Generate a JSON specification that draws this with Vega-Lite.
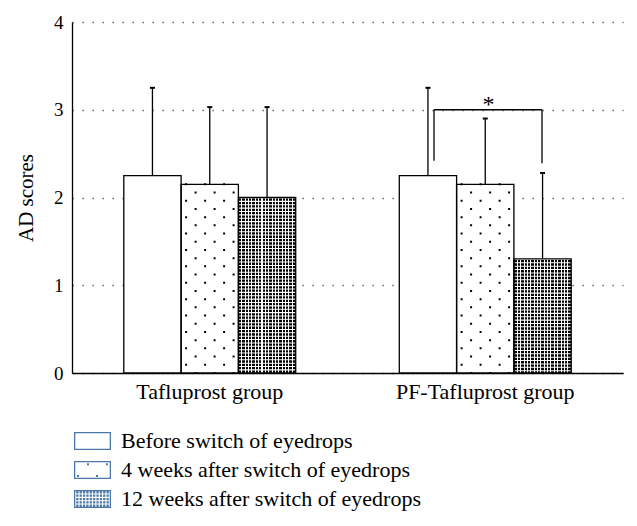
{
  "$schema": "https://vega.github.io/schema/vega-lite/v6.json",
  "width": 551,
  "height": 351,
  "autosize": {"type": "none"},
  "padding": {"left": 72, "top": 22, "right": 14, "bottom": 153},
  "background": "white",
  "config": {"view": {"stroke": null}, "font": "Liberation Serif"},
  "datasets": {
    "bars": [
      {"group": "Tafluprost group", "series": "Before switch of eyedrops", "value": 2.25, "upper": 3.25},
      {"group": "Tafluprost group", "series": "4 weeks after switch of eyedrops", "value": 2.15, "upper": 3.03},
      {"group": "Tafluprost group", "series": "12 weeks after switch of eyedrops", "value": 2.0, "upper": 3.03},
      {"group": "PF-Tafluprost group", "series": "Before switch of eyedrops", "value": 2.25, "upper": 3.25},
      {"group": "PF-Tafluprost group", "series": "4 weeks after switch of eyedrops", "value": 2.15, "upper": 2.9},
      {"group": "PF-Tafluprost group", "series": "12 weeks after switch of eyedrops", "value": 1.3, "upper": 2.28}
    ],
    "bracket": [
      {"x1": 1.314, "x2": 1.706, "y1": 3.0, "y2": 3.0},
      {"x1": 1.314, "x2": 1.314, "y1": 3.0, "y2": 2.42},
      {"x1": 1.706, "x2": 1.706, "y1": 3.0, "y2": 2.39}
    ],
    "star": [{"x1": 1.512, "y1": 2.97, "label": "*"}]
  },
  "layer": [
    {
      "data": {"name": "bars"},
      "encoding": {
        "x": {
          "field": "group", "type": "nominal",
          "sort": ["Tafluprost group", "PF-Tafluprost group"],
          "scale": {"paddingInner": 0.376, "paddingOuter": 0.188},
          "axis": {"title": null, "ticks": false, "labelAngle": 0, "labelFont": "Liberation Serif", "labelFontSize": 22, "labelColor": "black", "labelPadding": 8, "domainColor": "black", "domainWidth": 1.3, "grid": false}
        },
        "xOffset": {
          "field": "series", "type": "nominal",
          "scale": {"domain": ["Before switch of eyedrops", "4 weeks after switch of eyedrops", "12 weeks after switch of eyedrops"], "paddingInner": 0, "paddingOuter": 0}
        },
        "y": {
          "field": "value", "type": "quantitative", "title": "AD scores",
          "scale": {"domain": [0, 4], "nice": false},
          "axis": {"values": [0, 1, 2, 3, 4], "format": "d", "ticks": false, "labelFont": "Liberation Serif", "labelFontSize": 19, "labelColor": "black", "labelPadding": 9, "domainColor": "black", "domainWidth": 1.3, "grid": true, "gridDash": [1.3, 8.7], "gridColor": "#555555", "gridWidth": 1.3, "titleFont": "Liberation Serif", "titleFontSize": 21, "titleFontWeight": "normal", "titleColor": "black", "titlePadding": 17}
        }
      },
      "layer": [
        {
          "mark": {"type": "point", "opacity": 0, "size": 324, "filled": true},
          "encoding": {
            "shape": {
              "field": "series", "type": "nominal",
              "scale": {
                "domain": ["Before switch of eyedrops", "4 weeks after switch of eyedrops", "12 weeks after switch of eyedrops"],
                "range": [
                  "M-2.056,-1H2.056V1H-2.056ZM-1.912,-0.856V0.856H1.912V-0.856Z",
                  "M-2.056,-1H2.056V1H-2.056ZM-1.912,-0.856V0.856H1.912V-0.856ZM-0.61,-0.74h0.22v0.22h-0.22zM1.5,-0.74h0.22v0.22h-0.22zM-1.72,0.56h0.22v0.22h-0.22zM0.39,0.56h0.22v0.22h-0.22z",
                  "M-2.056,-1H2.056V1H-2.056ZM-1.912,-0.856V0.856H1.912V-0.856ZM-1.808,-0.873h0.25v0.25h-0.25zM-1.434,-0.873h0.25v0.25h-0.25zM-1.06,-0.873h0.25v0.25h-0.25zM-0.686,-0.873h0.25v0.25h-0.25zM-0.312,-0.873h0.25v0.25h-0.25zM0.062,-0.873h0.25v0.25h-0.25zM0.436,-0.873h0.25v0.25h-0.25zM0.81,-0.873h0.25v0.25h-0.25zM1.184,-0.873h0.25v0.25h-0.25zM1.558,-0.873h0.25v0.25h-0.25zM-1.808,-0.499h0.25v0.25h-0.25zM-1.434,-0.499h0.25v0.25h-0.25zM-1.06,-0.499h0.25v0.25h-0.25zM-0.686,-0.499h0.25v0.25h-0.25zM-0.312,-0.499h0.25v0.25h-0.25zM0.062,-0.499h0.25v0.25h-0.25zM0.436,-0.499h0.25v0.25h-0.25zM0.81,-0.499h0.25v0.25h-0.25zM1.184,-0.499h0.25v0.25h-0.25zM1.558,-0.499h0.25v0.25h-0.25zM-1.808,-0.125h0.25v0.25h-0.25zM-1.434,-0.125h0.25v0.25h-0.25zM-1.06,-0.125h0.25v0.25h-0.25zM-0.686,-0.125h0.25v0.25h-0.25zM-0.312,-0.125h0.25v0.25h-0.25zM0.062,-0.125h0.25v0.25h-0.25zM0.436,-0.125h0.25v0.25h-0.25zM0.81,-0.125h0.25v0.25h-0.25zM1.184,-0.125h0.25v0.25h-0.25zM1.558,-0.125h0.25v0.25h-0.25zM-1.808,0.249h0.25v0.25h-0.25zM-1.434,0.249h0.25v0.25h-0.25zM-1.06,0.249h0.25v0.25h-0.25zM-0.686,0.249h0.25v0.25h-0.25zM-0.312,0.249h0.25v0.25h-0.25zM0.062,0.249h0.25v0.25h-0.25zM0.436,0.249h0.25v0.25h-0.25zM0.81,0.249h0.25v0.25h-0.25zM1.184,0.249h0.25v0.25h-0.25zM1.558,0.249h0.25v0.25h-0.25zM-1.808,0.623h0.25v0.25h-0.25zM-1.434,0.623h0.25v0.25h-0.25zM-1.06,0.623h0.25v0.25h-0.25zM-0.686,0.623h0.25v0.25h-0.25zM-0.312,0.623h0.25v0.25h-0.25zM0.062,0.623h0.25v0.25h-0.25zM0.436,0.623h0.25v0.25h-0.25zM0.81,0.623h0.25v0.25h-0.25zM1.184,0.623h0.25v0.25h-0.25zM1.558,0.623h0.25v0.25h-0.25z"
                ]
              },
              "legend": {
                "orient": "none", "legendX": 9.5, "legendY": 408, "title": null, "direction": "vertical",
                "symbolSize": 324, "symbolStrokeWidth": 0, "symbolFillColor": "black", "symbolOpacity": 1,
                "labelFont": "Liberation Serif", "labelFontSize": 22, "labelColor": "black", "labelOffset": 17.5, "labelLimit": 500,
                "rowPadding": 7, "padding": 0,
                "encode": {"symbols": {"update": {"fill": {"value": "black"}, "opacity": {"value": 1}, "fillOpacity": {"value": 1}, "stroke": {"value": "transparent"}, "strokeWidth": {"value": 0}}}}
              }
            }
          }
        },
        {
          "mark": {"type": "bar", "fill": "white"}
        },
        {
          "transform": [{"filter": "datum.series === '12 weeks after switch of eyedrops'"}],
          "mark": {"type": "bar", "fill": "black"}
        },
        {
          "transform": [{"filter": "datum.series === '12 weeks after switch of eyedrops'"}],
          "mark": {
            "type": "bar",
            "fill": {
              "gradient": "linear", "x1": 0, "y1": 0, "x2": 1, "y2": 0,
              "stops": [
                {"offset": 0, "color": "white"},
                {"offset": 0.0089, "color": "white"}, {"offset": 0.0089, "color": "rgba(255,255,255,0)"}, {"offset": 0.0499, "color": "rgba(255,255,255,0)"}, {"offset": 0.0499, "color": "white"},
                {"offset": 0.0677, "color": "white"}, {"offset": 0.0677, "color": "rgba(255,255,255,0)"}, {"offset": 0.1087, "color": "rgba(255,255,255,0)"}, {"offset": 0.1087, "color": "white"},
                {"offset": 0.1266, "color": "white"}, {"offset": 0.1266, "color": "rgba(255,255,255,0)"}, {"offset": 0.1676, "color": "rgba(255,255,255,0)"}, {"offset": 0.1676, "color": "white"},
                {"offset": 0.1854, "color": "white"}, {"offset": 0.1854, "color": "rgba(255,255,255,0)"}, {"offset": 0.2264, "color": "rgba(255,255,255,0)"}, {"offset": 0.2264, "color": "white"},
                {"offset": 0.2442, "color": "white"}, {"offset": 0.2442, "color": "rgba(255,255,255,0)"}, {"offset": 0.2852, "color": "rgba(255,255,255,0)"}, {"offset": 0.2852, "color": "white"},
                {"offset": 0.3030, "color": "white"}, {"offset": 0.3030, "color": "rgba(255,255,255,0)"}, {"offset": 0.3440, "color": "rgba(255,255,255,0)"}, {"offset": 0.3440, "color": "white"},
                {"offset": 0.3619, "color": "white"}, {"offset": 0.3619, "color": "rgba(255,255,255,0)"}, {"offset": 0.4029, "color": "rgba(255,255,255,0)"}, {"offset": 0.4029, "color": "white"},
                {"offset": 0.4207, "color": "white"}, {"offset": 0.4207, "color": "rgba(255,255,255,0)"}, {"offset": 0.4617, "color": "rgba(255,255,255,0)"}, {"offset": 0.4617, "color": "white"},
                {"offset": 0.4795, "color": "white"}, {"offset": 0.4795, "color": "rgba(255,255,255,0)"}, {"offset": 0.5205, "color": "rgba(255,255,255,0)"}, {"offset": 0.5205, "color": "white"},
                {"offset": 0.5383, "color": "white"}, {"offset": 0.5383, "color": "rgba(255,255,255,0)"}, {"offset": 0.5793, "color": "rgba(255,255,255,0)"}, {"offset": 0.5793, "color": "white"},
                {"offset": 0.5972, "color": "white"}, {"offset": 0.5972, "color": "rgba(255,255,255,0)"}, {"offset": 0.6382, "color": "rgba(255,255,255,0)"}, {"offset": 0.6382, "color": "white"},
                {"offset": 0.6560, "color": "white"}, {"offset": 0.6560, "color": "rgba(255,255,255,0)"}, {"offset": 0.6970, "color": "rgba(255,255,255,0)"}, {"offset": 0.6970, "color": "white"},
                {"offset": 0.7148, "color": "white"}, {"offset": 0.7148, "color": "rgba(255,255,255,0)"}, {"offset": 0.7558, "color": "rgba(255,255,255,0)"}, {"offset": 0.7558, "color": "white"},
                {"offset": 0.7736, "color": "white"}, {"offset": 0.7736, "color": "rgba(255,255,255,0)"}, {"offset": 0.8146, "color": "rgba(255,255,255,0)"}, {"offset": 0.8146, "color": "white"},
                {"offset": 0.8324, "color": "white"}, {"offset": 0.8324, "color": "rgba(255,255,255,0)"}, {"offset": 0.8734, "color": "rgba(255,255,255,0)"}, {"offset": 0.8734, "color": "white"},
                {"offset": 0.8913, "color": "white"}, {"offset": 0.8913, "color": "rgba(255,255,255,0)"}, {"offset": 0.9323, "color": "rgba(255,255,255,0)"}, {"offset": 0.9323, "color": "white"},
                {"offset": 0.9501, "color": "white"}, {"offset": 0.9501, "color": "rgba(255,255,255,0)"}, {"offset": 0.9911, "color": "rgba(255,255,255,0)"}, {"offset": 0.9911, "color": "white"},
                {"offset": 1, "color": "white"}
              ]
            }
          }
        },
        {
          "transform": [{"filter": "datum.series === '12 weeks after switch of eyedrops'"}],
          "mark": {"type": "rule", "stroke": "white", "strokeWidth": 57.3, "strokeDash": [1.05, 2.32], "strokeCap": "butt"},
          "encoding": {"y2": {"datum": 0}}
        },
        {
          "transform": [{"filter": "datum.series === '4 weeks after switch of eyedrops'"}],
          "mark": {
            "type": "point", "filled": true, "color": "black", "opacity": 1, "size": 4, "strokeWidth": 0,
            "shape": "M-24.65,-1h2v2h-2zM-5.65,-1h2v2h-2zM13.35,-1h2v2h-2zM-15.15,7.2h2v2h-2zM3.85,7.2h2v2h-2zM22.85,7.2h2v2h-2zM-24.65,15.4h2v2h-2zM-5.65,15.4h2v2h-2zM13.35,15.4h2v2h-2zM-15.15,23.6h2v2h-2zM3.85,23.6h2v2h-2zM22.85,23.6h2v2h-2zM-24.65,31.8h2v2h-2zM-5.65,31.8h2v2h-2zM13.35,31.8h2v2h-2zM-15.15,40h2v2h-2zM3.85,40h2v2h-2zM22.85,40h2v2h-2zM-24.65,48.2h2v2h-2zM-5.65,48.2h2v2h-2zM13.35,48.2h2v2h-2zM-15.15,56.4h2v2h-2zM3.85,56.4h2v2h-2zM22.85,56.4h2v2h-2zM-24.65,64.6h2v2h-2zM-5.65,64.6h2v2h-2zM13.35,64.6h2v2h-2zM-15.15,72.8h2v2h-2zM3.85,72.8h2v2h-2zM22.85,72.8h2v2h-2zM-24.65,81h2v2h-2zM-5.65,81h2v2h-2zM13.35,81h2v2h-2zM-15.15,89.2h2v2h-2zM3.85,89.2h2v2h-2zM22.85,89.2h2v2h-2zM-24.65,97.4h2v2h-2zM-5.65,97.4h2v2h-2zM13.35,97.4h2v2h-2zM-15.15,105.6h2v2h-2zM3.85,105.6h2v2h-2zM22.85,105.6h2v2h-2zM-24.65,113.8h2v2h-2zM-5.65,113.8h2v2h-2zM13.35,113.8h2v2h-2zM-15.15,122h2v2h-2zM3.85,122h2v2h-2zM22.85,122h2v2h-2zM-24.65,130.2h2v2h-2zM-5.65,130.2h2v2h-2zM13.35,130.2h2v2h-2zM-15.15,138.4h2v2h-2zM3.85,138.4h2v2h-2zM22.85,138.4h2v2h-2zM-24.65,146.6h2v2h-2zM-5.65,146.6h2v2h-2zM13.35,146.6h2v2h-2zM-15.15,154.8h2v2h-2zM3.85,154.8h2v2h-2zM22.85,154.8h2v2h-2zM-24.65,163h2v2h-2zM-5.65,163h2v2h-2zM13.35,163h2v2h-2zM-15.15,171.2h2v2h-2zM3.85,171.2h2v2h-2zM22.85,171.2h2v2h-2zM-24.65,179.4h2v2h-2zM-5.65,179.4h2v2h-2zM13.35,179.4h2v2h-2zM-15.15,187.6h2v2h-2zM3.85,187.6h2v2h-2zM22.85,187.6h2v2h-2z"
          }
        },
        {
          "mark": {"type": "bar", "fill": "white", "fillOpacity": 0, "stroke": "black", "strokeWidth": 1.3}
        },
        {
          "mark": {"type": "rule", "stroke": "black", "strokeWidth": 1.3},
          "encoding": {"y2": {"field": "upper"}}
        },
        {
          "mark": {"type": "tick", "orient": "horizontal", "size": 5, "thickness": 2, "color": "black", "opacity": 1},
          "encoding": {"y": {"field": "upper", "type": "quantitative", "title": "AD scores"}}
        }
      ]
    },
    {
      "layer": [
        {
          "data": {"name": "bracket"},
          "mark": {"type": "rule", "stroke": "black", "strokeWidth": 1.3},
          "encoding": {
            "x": {"field": "x1", "type": "quantitative", "scale": {"domain": [0, 2], "nice": false, "zero": false}, "axis": null},
            "x2": {"field": "x2"},
            "y": {"field": "y1", "type": "quantitative", "scale": {"domain": [0, 4], "nice": false}, "title": "AD scores"},
            "y2": {"field": "y2"}
          }
        },
        {
          "data": {"name": "star"},
          "mark": {"type": "text", "font": "Liberation Serif", "fontSize": 24, "color": "black", "align": "center", "baseline": "alphabetic"},
          "encoding": {
            "x": {"field": "x1", "type": "quantitative", "scale": {"domain": [0, 2], "nice": false, "zero": false}, "axis": null},
            "y": {"field": "y1", "type": "quantitative", "scale": {"domain": [0, 4], "nice": false}, "title": "AD scores"},
            "text": {"field": "label"}
          }
        }
      ]
    }
  ],
  "resolve": {"scale": {"x": "independent"}}
}
